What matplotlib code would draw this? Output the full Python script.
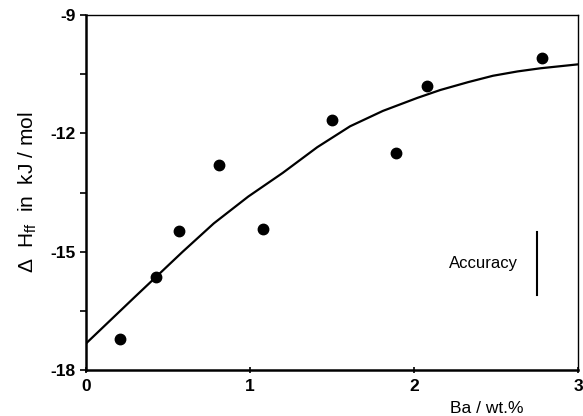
import matplotlib
matplotlib.use('Agg')
import matplotlib.pyplot as plt

plt.rcParams['font.family'] = ['Liberation Sans', 'DejaVu Sans']
plt.rcParams['axes.unicode_minus'] = False

# measured points: Ba content (wt.%) and enthalpy (kJ/mol)
ba_pts = [0.21, 0.43, 0.57, 0.81, 1.08, 1.50, 1.89, 2.08, 2.78]
dh_pts = [-17.2, -15.65, -14.48, -12.8, -14.43, -11.66, -12.5, -10.8, -10.1]

# fitted curve
ba_fit = [0.0, 0.3, 0.59, 0.78, 0.99, 1.2, 1.41, 1.61, 1.81, 2.02, 2.16,
          2.33, 2.48, 2.63, 2.77, 3.0]
dh_fit = [-17.33, -16.14, -15.0, -14.28, -13.6, -13.0, -12.35, -11.82, -11.43,
          -11.1, -10.9, -10.7, -10.54, -10.43, -10.35, -10.25]

# accuracy bar
acc_x = 2.75
acc_y = [-14.5, -16.1]

fig = plt.figure(figsize=(5.83, 4.16), dpi=100)
ax = fig.add_axes([0.147, 0.11, 0.845, 0.854])

ax.plot(ba_fit, dh_fit, color='black', lw=1.6)
ax.plot(ba_pts, dh_pts, 'o', color='black', ms=7.5)
ax.plot([acc_x, acc_x], acc_y, color='black', lw=1.5)
ax.text(2.63, -15.3, 'Accuracy', ha='right', va='center', fontsize=12)

ax.set_xlim(0, 3)
ax.set_ylim(-18, -9)
ax.set_xticks([0, 1, 2, 3])
ax.set_yticks([-18, -15, -12, -9])
ax.set_yticks([-16.5, -13.5, -10.5], minor=True)
ax.tick_params(axis='y', which='both', direction='out', length=4, width=1.2)
ax.tick_params(axis='x', direction='inout', length=5, width=1.2)
for lab in ax.get_xticklabels() + ax.get_yticklabels():
    lab.set_fontweight('bold')
    lab.set_fontsize(12.5)

ax.spines['left'].set_linewidth(1.8)
ax.spines['bottom'].set_linewidth(1.8)
ax.spines['top'].set_linewidth(1.0)
ax.spines['right'].set_linewidth(1.0)

ax.set_ylabel('Δ  H$\\mathregular{_{ff}}$  in  kJ / mol', fontsize=15, labelpad=8)
fig.text(0.835, 0.0, 'Ba / wt.%', fontsize=12.5, ha='center', va='bottom')

fig.savefig('out.png', dpi=100)
